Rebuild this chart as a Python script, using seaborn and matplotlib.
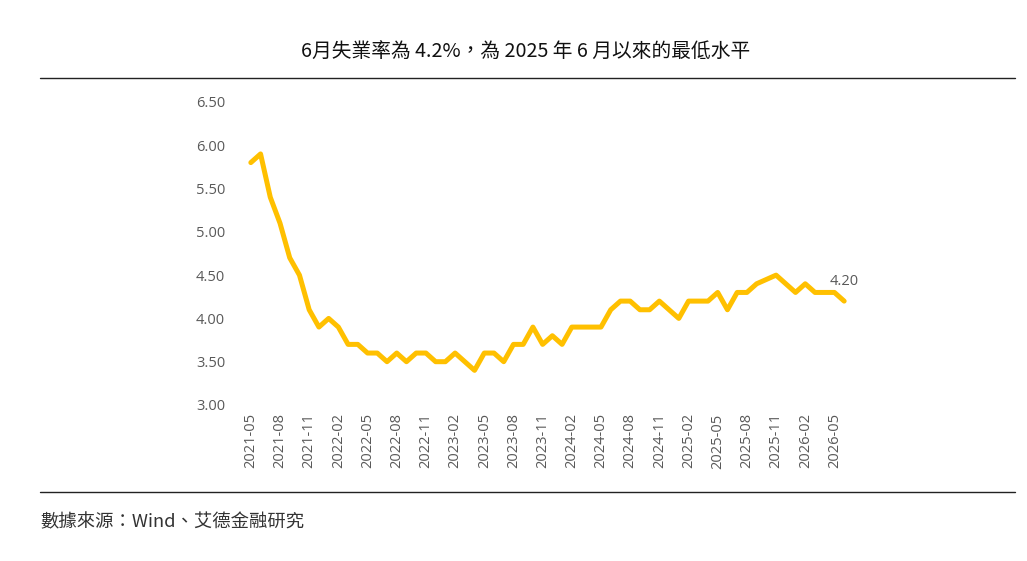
import numpy as np
import pandas as pd
import matplotlib
matplotlib.use("Agg")
import matplotlib.pyplot as plt
from matplotlib.lines import Line2D
import seaborn as sns

# monthly unemployment rate, 2021-05 .. 2026-06
months = pd.period_range("2021-05", "2026-06", freq="M").strftime("%Y-%m").tolist()
rate = [5.8, 5.9, 5.4, 5.1, 4.7, 4.5, 4.1, 3.9, 4.0, 3.9, 3.7, 3.7,
        3.6, 3.6, 3.5, 3.6, 3.5, 3.6, 3.6, 3.5, 3.5, 3.6, 3.5, 3.4,
        3.6, 3.6, 3.5, 3.7, 3.7, 3.9, 3.7, 3.8, 3.7, 3.9, 3.9, 3.9,
        3.9, 4.1, 4.2, 4.2, 4.1, 4.1, 4.2, 4.1, 4.0, 4.2, 4.2, 4.2,
        4.3, 4.1, 4.3, 4.3, 4.4, 4.45, 4.5, 4.4, 4.3, 4.4, 4.3, 4.3,
        4.3, 4.2]
yticks = [3.0, 3.5, 4.0, 4.5, 5.0, 5.5, 6.0, 6.5]

title = "6月失業率為 4.2%，為 2025 年 6 月以來的最低水平"
source = "數據來源：Wind、艾德金融研究"

df = pd.DataFrame({"pos": np.arange(len(months)), "month": months, "rate": rate})

sns.set_theme(style="white")
plt.rcParams["font.family"] = ["Noto Sans CJK TC", "DejaVu Sans"]

fig = plt.figure(figsize=(10.27, 5.61), dpi=100)
ax = fig.add_axes([0.2395, 0.2781, 0.5872, 0.5401])

sns.lineplot(data=df, x="pos", y="rate", ax=ax, color="#FFC000", linewidth=3.6)

ax.set_xlim(-0.5, len(months) - 0.5)
ax.set_ylim(3.0, 6.5)
ax.set_yticks(yticks)
ax.set_yticklabels(["{:.2f}".format(v) for v in yticks])
tick_pos = df["pos"][::3]
ax.set_xticks(tick_pos)
ax.set_xticklabels(df["month"][::3], rotation=90)
ax.tick_params(axis="both", length=0, labelsize=10.5, labelcolor="#595959")
ax.tick_params(axis="y", pad=15)
ax.tick_params(axis="x", pad=6)
for lab in ax.get_xticklabels() + ax.get_yticklabels():
    lab.set_family(["Open Sans", "DejaVu Sans"])
ax.set_xlabel("")
ax.set_ylabel("")
sns.despine(ax=ax, left=True, bottom=True)

# last value label
last = df.iloc[-1]
ax.annotate("{:.2f}".format(last["rate"]), (last["pos"], last["rate"]),
            xytext=(0, 9), textcoords="offset points", ha="center", va="bottom",
            fontsize=10.5, color="#595959", family=["Open Sans", "DejaVu Sans"])

fig.text(0.512, 0.906, title, ha="center", va="center", fontsize=14.2, color="#111111")
fig.add_artist(Line2D([0.039, 0.988], [0.861, 0.861], color="#222222", linewidth=1))
fig.add_artist(Line2D([0.039, 0.988], [0.123, 0.123], color="#222222", linewidth=1))
fig.text(0.039, 0.069, source, ha="left", va="center", fontsize=13.2, color="#333333",
         style="italic")

fig.savefig("out.png", dpi=100, facecolor="white")
